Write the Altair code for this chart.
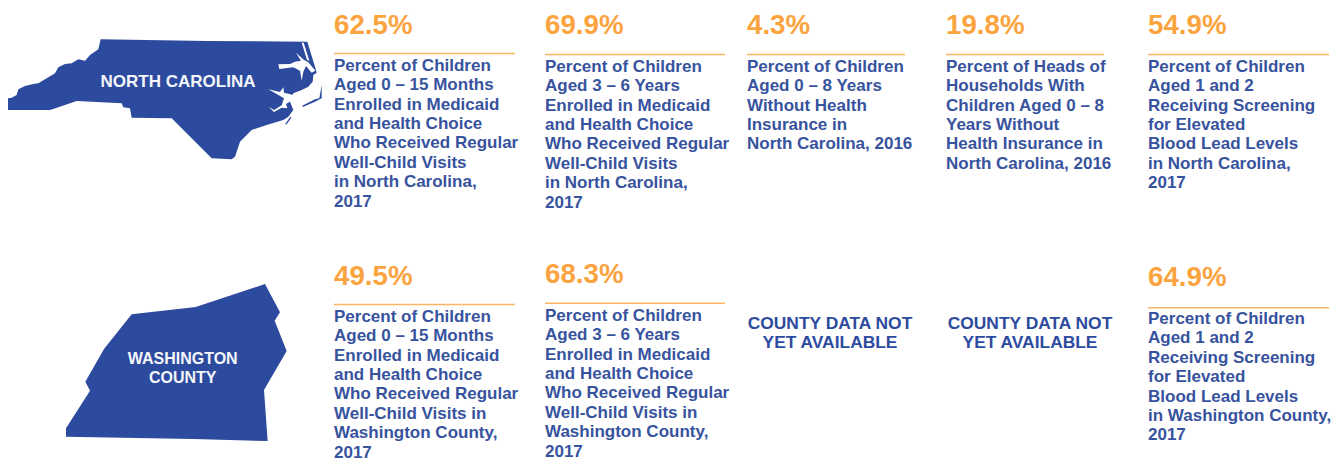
import altair as alt
import pandas as pd

BLUE = "#2D4B9E"
TEXT_BLUE = "#37539E"
ORANGE = "#FBA43F"
RULE = "#FBB565"
FONT = "Liberation Sans"

# Text blocks: value, x, value baseline, rule y, rule x end, first line baseline, lines
blocks = [
    ("62.5%", 334, 34.0, 53.5, 515, 70.7, ["Percent of Children", "Aged 0 – 15 Months", "Enrolled in Medicaid", "and Health Choice", "Who Received Regular", "Well-Child Visits", "in North Carolina,", "2017"]),
    ("69.9%", 545, 34.0, 54.5, 725, 71.7, ["Percent of Children", "Aged 3 – 6 Years", "Enrolled in Medicaid", "and Health Choice", "Who Received Regular", "Well-Child Visits", "in North Carolina,", "2017"]),
    ("4.3%", 747, 34.0, 54.5, 905, 71.7, ["Percent of Children", "Aged 0 – 8 Years", "Without Health", "Insurance in", "North Carolina, 2016"]),
    ("19.8%", 946, 34.0, 54.5, 1104, 71.7, ["Percent of Heads of", "Households With", "Children Aged 0 – 8", "Years Without", "Health Insurance in", "North Carolina, 2016"]),
    ("54.9%", 1148, 34.0, 54.5, 1329, 71.7, ["Percent of Children", "Aged 1 and 2", "Receiving Screening", "for Elevated", "Blood Lead Levels", "in North Carolina,", "2017"]),
    ("49.5%", 334, 284.7, 304.5, 515, 321.7, ["Percent of Children", "Aged 0 – 15 Months", "Enrolled in Medicaid", "and Health Choice", "Who Received Regular", "Well-Child Visits in", "Washington County,", "2017"]),
    ("68.3%", 545, 283.3, 303.3, 725, 320.7, ["Percent of Children", "Aged 3 – 6 Years", "Enrolled in Medicaid", "and Health Choice", "Who Received Regular", "Well-Child Visits in", "Washington County,", "2017"]),
    ("64.9%", 1148, 286.0, 307.7, 1329, 324.0, ["Percent of Children", "Aged 1 and 2", "Receiving Screening", "for Elevated", "Blood Lead Levels", "in Washington County,", "2017"]),
]
LINE_STEP = 19.4

county_text = ["COUNTY DATA NOT", "YET AVAILABLE", "COUNTY DATA NOT", "YET AVAILABLE"]
county_x = [830, 830, 1030, 1030]
county_y = [328.7, 348.3, 328.7, 347.7]

map_text = ["NORTH CAROLINA", "WASHINGTON", "COUNTY"]
map_x = [178, 182.7, 182.7]
map_y = [86.7, 363.7, 382.7]
map_size = [17.0, 16.0, 16.0]

# Outline traces: page pixel coordinates x 3, measured from (0, 30) for the state
nc_main = [(22,240),(24,205),(35,203),(50,195),(55,178),(75,168),(100,162),(115,160),(135,148),(165,130),(175,112),(195,102),(215,100),(235,88),(255,92),(270,75),(295,58),(302,28),(620,33),(922,35),(945,110),(950,128),(940,135),(938,155),(925,170),(905,180),(880,190),(870,215),(880,240),(865,260),(850,270),(800,285),(755,300),(720,335),(705,380),(695,388),(635,385),(515,265),(395,263),(390,235),(370,232),(365,220),(230,213),(195,225),(150,240)]
nc_albemarle = [(835,103),(870,102),(885,95),(903,92),(888,68),(912,90),(925,97),(946,122),(935,128),(918,108),(910,125),(905,152),(900,122),(880,112),(838,117)]
nc_strip = [(905,38),(911,38),(928,92),(921,90)]
nc_pamlico = [(805,178),(840,186),(850,172),(852,188),(880,195),(875,212),(858,222),(862,235),(845,233),(822,246),(806,230),(822,240),(845,226),(852,205),(830,192)]
nc_bank1 = [(905,228),(945,208),(958,205),(965,165),(965,205),(945,215),(910,230)]
nc_bank2 = [(855,283),(870,262),(875,262),(860,283)]
# Washington County: pixel coordinates x 3, measured from (50, 275)
wa_main = [(245,118),(437,96),(645,27),(690,112),(674,137),(710,228),(642,345),(653,498),(430,492),(48,485),(48,460),(120,347),(106,320),(162,222)]


def feature(points, fill, ox, oy):
    ring = [[ox + p[0] / 3, oy + p[1] / 3] for p in points]
    ring.append(ring[0])
    return {"type": "Feature", "properties": {"fill": fill},
            "geometry": {"type": "Polygon", "coordinates": [ring]}}


features = [
    feature(nc_main, BLUE, 0, 30),
    feature(nc_albemarle, "#FFFFFF", 0, 30),
    feature(nc_strip, "#FFFFFF", 0, 30),
    feature(nc_pamlico, "#FFFFFF", 0, 30),
    feature(nc_bank1, BLUE, 0, 30),
    feature(nc_bank2, BLUE, 0, 30),
    feature(wa_main, BLUE, 50, 275),
]

value_rows, body_rows, rule_rows = [], [], []
for val, x, vy, ry, rx2, y0, lines in blocks:
    value_rows.append({"t": val, "x": x, "y": vy})
    rule_rows.append({"x": x, "x2": rx2, "y": ry})
    for i, line in enumerate(lines):
        body_rows.append({"t": line, "x": x, "y": y0 + i * LINE_STEP})

county_rows = [{"t": t, "x": x, "y": y} for t, x, y in zip(county_text, county_x, county_y)]
map_rows = [{"t": t, "x": x, "y": y, "s": s} for t, x, y, s in zip(map_text, map_x, map_y, map_size)]

W, H = 1324, 453
X = alt.X("x:Q", scale=alt.Scale(domain=[8, 8 + W], range=[0, W]), axis=None)
Y = alt.Y("y:Q", scale=alt.Scale(domain=[8, 8 + H], range=[0, H]), axis=None)

shapes = (
    alt.Chart(alt.Data(values=features, format=alt.DataFormat(type="json")))
    .mark_geoshape(strokeWidth=0)
    .encode(fill=alt.Fill("properties.fill:N", scale=None))
    .project(type="identity", scale=1, translate=[-8, -8])
)

rules = alt.Chart(pd.DataFrame(rule_rows)).mark_rule(color=RULE, strokeWidth=1.6).encode(x=X, x2="x2:Q", y=Y)
values = alt.Chart(pd.DataFrame(value_rows)).mark_text(
    align="left", baseline="alphabetic", font=FONT, fontWeight="bold", fontSize=27.7, color=ORANGE
).encode(x=X, y=Y, text="t:N")
body = alt.Chart(pd.DataFrame(body_rows)).mark_text(
    align="left", baseline="alphabetic", font=FONT, fontWeight="bold", fontSize=17, color=TEXT_BLUE
).encode(x=X, y=Y, text="t:N")
county = alt.Chart(pd.DataFrame(county_rows)).mark_text(
    align="center", baseline="alphabetic", font=FONT, fontWeight="bold", fontSize=17.4, color=BLUE
).encode(x=X, y=Y, text="t:N")
labels = alt.Chart(pd.DataFrame(map_rows)).mark_text(
    align="center", baseline="alphabetic", font=FONT, fontWeight="bold", color="#F4F6FA"
).encode(x=X, y=Y, text="t:N", size=alt.Size("s:Q", scale=None, legend=None))

chart = (
    alt.layer(shapes, rules, values, body, county, labels)
    .resolve_scale(x="shared", y="shared")
    .properties(width=W, height=H, padding=0, background="#FFFFFF", autosize=alt.AutoSizeParams(type="none"))
    .configure_view(strokeWidth=0)
)
chart.save("out.html", embed_options={"renderer": "svg", "actions": False})
